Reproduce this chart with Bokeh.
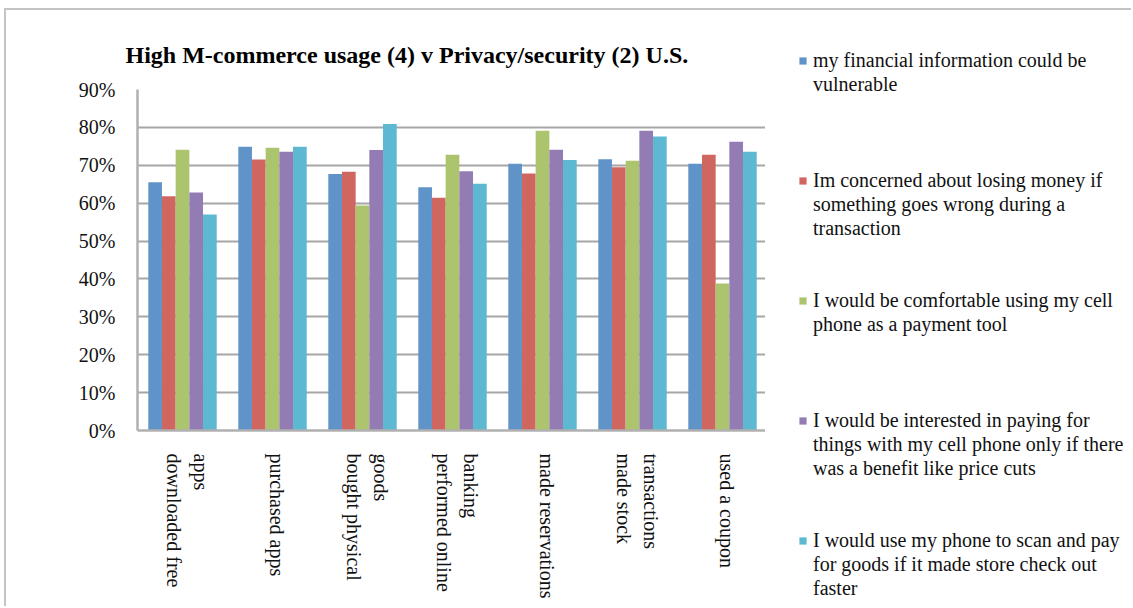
from bokeh.plotting import figure
from bokeh.layouts import row
from bokeh.models import (ColumnDataSource, Range1d, FixedTicker,
                          PrintfTickFormatter, Legend, LegendItem, LinearAxis, Title)
from bokeh.transform import dodge
from bokeh.embed import file_html
from bokeh.resources import INLINE

# Categories (activities) and their wrapped axis labels
activities = ["downloaded free apps", "purchased apps", "bought physical goods",
              "performed online banking", "made reservations",
              "made stock transactions", "used a coupon"]
activity_labels = ["downloaded free\napps", "purchased apps", "bought physical\ngoods",
                   "performed online\nbanking", "made reservations",
                   "made stock\ntransactions", "used a coupon"]

# Share of respondents agreeing (%), one list per statement
financial_vulnerable = [65.5, 74.9, 67.7, 64.2, 70.4, 71.6, 70.4]
losing_money = [61.8, 71.5, 68.3, 61.4, 67.8, 69.5, 72.8]
comfortable_paying = [74.1, 74.6, 59.4, 72.8, 79.1, 71.2, 38.8]
only_if_benefit = [62.8, 73.6, 74.0, 68.4, 74.1, 79.1, 76.2]
faster_checkout = [57.0, 74.9, 80.9, 65.1, 71.4, 77.6, 73.6]

series_names = [
    "my financial information could be\nvulnerable",
    "Im concerned about losing money if\nsomething goes wrong during a\ntransaction",
    "I would be comfortable using my cell\nphone as a payment tool",
    "I would be interested in paying for\nthings with my cell phone only if there\nwas a benefit like price cuts",
    "I would use my phone to scan and pay\nfor goods if it made store check out\nfaster",
]
series_keys = ["financial_vulnerable", "losing_money", "comfortable_paying",
               "only_if_benefit", "faster_checkout"]
series_colors = ["#6094c8", "#cf6660", "#acc46e", "#937cb4", "#5db8d1"]

y_ticks = [0, 10, 20, 30, 40, 50, 60, 70, 80, 90]

title_text = "High M-commerce usage (4) v Privacy/security (2) U.S."

# category i occupies the slot i..i+1 on the x axis
slot_center = [i + 0.5 for i in range(len(activities))]

source = ColumnDataSource(dict(
    activity=activities,
    center=slot_center,
    financial_vulnerable=financial_vulnerable,
    losing_money=losing_money,
    comfortable_paying=comfortable_paying,
    only_if_benefit=only_if_benefit,
    faster_checkout=faster_checkout,
))

FONT = "Liberation Serif"
FONT_PX = 20
TEXT_COLOR = "#111111"
AXIS_GREY = "#b0b0b0"
BORDER = "2px solid #c4c4c4"

# ---- chart ----
p = figure(x_range=Range1d(0, len(activities)), y_range=Range1d(0, 90),
           x_axis_location=None,
           width=761, height=598, output_backend="svg", toolbar_location=None,
           min_border_left=131, min_border_right=0,
           min_border_top=79, min_border_bottom=178)
p.margin = (8, 0, 0, 4)
p.styles = {"border-top": BORDER, "border-left": BORDER}

bar_w = 0.152
for i, (key, color) in enumerate(zip(series_keys, series_colors)):
    p.vbar(x=dodge("center", (i - 2) * bar_w), top=key,
           width=bar_w, source=source, fill_color=color, line_color=None)

# category axis: each wrapped line is its own vertical tick label
single_offset = [0.05]
double_offset = [-0.09, 0.2]
tick_pos, tick_text = [], {}
for c, lab in zip(slot_center, activity_labels):
    lines = lab.split("\n")
    offs = single_offset if len(lines) == 1 else double_offset
    for line, off in zip(lines, offs):
        pos = round(c + off, 3)
        tick_pos.append(pos)
        tick_text[pos] = line

xaxis = LinearAxis(ticker=FixedTicker(ticks=tick_pos),
                   major_label_overrides=tick_text,
                   major_label_orientation="vertical",
                   major_label_text_font=FONT, major_label_text_font_size=f"{FONT_PX}px",
                   major_label_text_color=TEXT_COLOR, major_label_standoff=23,
                   major_tick_line_color=None, minor_tick_line_color=None,
                   major_tick_out=0, major_tick_in=0, minor_tick_out=0,
                   axis_line_color=AXIS_GREY, axis_line_width=2.5)
p.add_layout(xaxis, "below")

p.yaxis.ticker = FixedTicker(ticks=y_ticks)
p.yaxis.formatter = PrintfTickFormatter(format="%d%%")
p.yaxis.major_label_text_font = FONT
p.yaxis.major_label_text_font_size = f"{FONT_PX}px"
p.yaxis.major_label_text_color = TEXT_COLOR
p.yaxis.major_label_standoff = 22
p.yaxis.major_tick_out = 0
p.yaxis.major_tick_in = 0
p.yaxis.major_tick_line_color = None
p.yaxis.minor_tick_line_color = None
p.yaxis.axis_line_color = AXIS_GREY
p.yaxis.axis_line_width = 2.5

p.ygrid.grid_line_color = "#a6a6a6"
p.ygrid.grid_line_width = 2
p.xgrid.visible = False
p.outline_line_color = None

p.add_layout(Title(text=title_text, align="left", offset=-12, standoff=43,
                   text_font=FONT, text_font_style="bold", text_font_size="24px",
                   text_color="#000000"), "above")

# ---- legend panel ----
lp = figure(x_range=Range1d(-2, -1), y_range=Range1d(0, 1),
            x_axis_location=None, y_axis_location=None,
            width=366, height=598, output_backend="svg", toolbar_location=None,
            min_border=0)
lp.margin = (8, 0, 0, 0)
lp.styles = {"border-top": BORDER}
lp.grid.visible = False
lp.outline_line_color = None
# the legend panel keeps its own full-height frame
for fig in (p, lp):
    if "frame_align" in fig.properties():
        fig.frame_align = False

# swatch renderers share the series data; they lie outside this panel's x range
swatches = [lp.vbar(x="center", top=key, width=0.1, source=source,
                    fill_color=c, line_color=None)
            for key, c in zip(series_keys, series_colors)]
spacer = lp.vbar(x="center", top="faster_checkout", width=0.1, source=source,
                 fill_alpha=0, line_alpha=0)

# one row per wrapped line, blank rows between statements
rows_per_entry = 5
items = []
for k, (name, sw) in enumerate(zip(series_names, swatches)):
    lines = name.split("\n")
    items.append(LegendItem(label=lines[0], renderers=[sw]))
    for line in lines[1:]:
        items.append(LegendItem(label=line, renderers=[spacer]))
    if k < len(series_names) - 1:
        for _ in range(rows_per_entry - len(lines)):
            items.append(LegendItem(label=" ", renderers=[spacer]))

legend = Legend(items=items, location=(33, 8),
                glyph_width=9, glyph_height=9, label_standoff=6,
                label_height=24, label_width=10, spacing=0,
                label_text_font=FONT, label_text_font_size=f"{FONT_PX}px",
                label_text_color=TEXT_COLOR,
                padding=0, margin=0,
                border_line_color=None, background_fill_alpha=0)
lp.add_layout(legend)

open("out.html", "w").write(file_html(row(p, lp), INLINE))
